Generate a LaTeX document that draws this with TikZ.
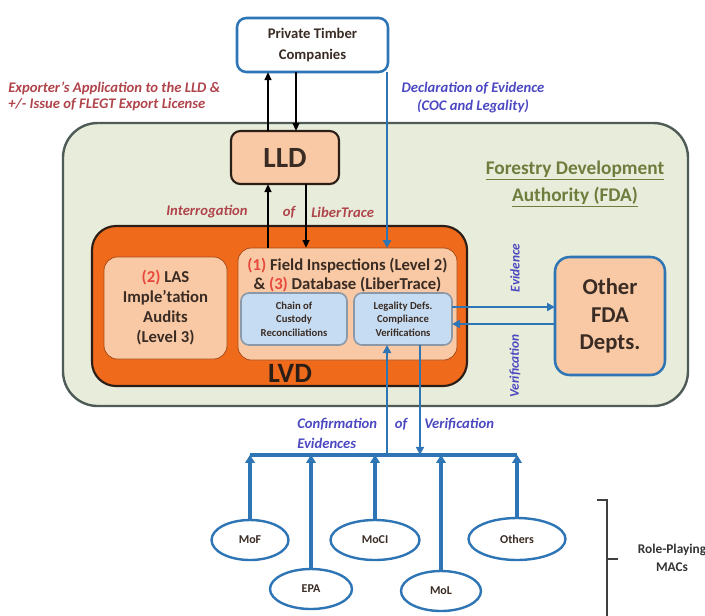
\documentclass[tikz,border=0pt]{standalone}
\usepackage{fontspec}
\setmainfont{Carlito}
\usetikzlibrary{calc,shapes.geometric,arrows.meta}
\definecolor{bl}{HTML}{2E75B6}
\definecolor{peach}{HTML}{F8C9A4}
\definecolor{orng}{HTML}{F06A1C}
\definecolor{fdafill}{HTML}{E8EDDB}
\definecolor{fdaline}{HTML}{4E5B57}
\definecolor{dk}{HTML}{2B1E16}
\definecolor{lblue}{HTML}{C6DCF2}
\definecolor{lbline}{HTML}{8A98A8}
\definecolor{redlab}{HTML}{B0444B}
\definecolor{purlab}{HTML}{4B48C2}
\definecolor{olive}{HTML}{6E7D3E}
\definecolor{redn}{HTML}{E8473C}
\definecolor{txt}{HTML}{3A2C24}
\newcommand{\fs}[2]{\fontsize{#1}{#2}\selectfont}
\tikzset{
  boxbase/.style={rectangle, inner sep=0pt, outer sep=0pt},
  ptcbox/.style={boxbase, draw=bl, line width=1.9pt, fill=white, rounded corners=7pt, text=txt, align=center, font=\fs{11}{15.5}\bfseries},
  lldbox/.style={boxbase, draw=dk, line width=1.6pt, fill=peach, rounded corners=7pt, text=txt, font=\fs{22}{24}\bfseries},
  fdabox/.style={boxbase, draw=fdaline, line width=1.8pt, fill=fdafill, rounded corners=26pt},
  lvdbox/.style={boxbase, draw=dk, line width=1.6pt, fill=orng, rounded corners=18pt},
  peachbox/.style={boxbase, draw=orng!70!black, line width=0.6pt, fill=peach, rounded corners=10pt},
  lbbox/.style={boxbase, draw=lbline, line width=1.2pt, fill=lblue, rounded corners=6pt, text=txt, align=center, font=\fs{8}{10}\bfseries},
  otherbox/.style={boxbase, draw=bl, line width=1.9pt, fill=peach, rounded corners=11pt, text=txt, align=center, font=\fs{17}{20.5}\bfseries},
  mac/.style={ellipse, draw=bl, line width=1.8pt, fill=white, inner sep=0pt, text=txt, font=\fs{9}{11}\bfseries},
  blk/.style={draw=black, line width=1.5pt, -{Triangle[length=6pt,width=5pt]}},
  bla/.style={draw=bl, line width=1.8pt, -{Triangle[length=6pt,width=6pt]}},
  blup/.style={draw=bl, line width=2.4pt, -{Triangle[length=6pt,width=7pt]}},
  busline/.style={draw=bl, line width=3pt},
  redtxt/.style={text=redlab, font=\fs{11}{15}\bfseries\itshape, inner sep=0pt},
  purtxt/.style={text=purlab, font=\fs{11}{15}\bfseries\itshape, inner sep=0pt},
  brk/.style={draw=black!75, line width=0.9pt},
}
\begin{document}
\begin{tikzpicture}[x=0.75pt,y=-0.75pt]
\useasboundingbox (0,0) rectangle (705,615);
% containers
\node[fdabox, minimum width=468.75pt, minimum height=212.25pt] (fda) at (375.5,264.5) {};
\node[lvdbox, minimum width=281.25pt, minimum height=120pt] (lvd) at (279.5,306) {};
\node[inner sep=0pt, text=dk, font=\fs{21}{23}\bfseries] (lvdlab) at (290,373) {LVD};
\node[peachbox, minimum width=92.25pt, minimum height=76.5pt, text=txt, align=center, font=\fs{12.5}{15}\bfseries] (las) at (165.5,308)
  {{\color{redn}(2)} LAS\\Imple'tation\\Audits\\(Level 3)};
\node[peachbox, minimum width=164.25pt, minimum height=84pt] (inner) at (347.5,304) {};
\node[inner sep=0pt, text=txt, font=\fs{12.5}{15}\bfseries] (fi1) at (347.5,266) {{\color{redn}(1)} Field Inspections (Level 2)};
\node[inner sep=0pt, text=txt, font=\fs{12.5}{15}\bfseries] (fi2) at (347.5,285) {\& {\color{redn}(3)} Database (LiberTrace)};
\node[lbbox, minimum width=79.5pt, minimum height=39pt] (chain) at (294,319) {Chain of\\Custody\\Reconciliations};
\node[lbbox, minimum width=73.5pt, minimum height=39pt] (legal) at (403,319) {Legality Defs.\\Compliance\\Verifications};
\node[lldbox, minimum width=81pt, minimum height=39.75pt] (lld) at (285,157.5) {LLD};
\node[ptcbox, minimum width=113.25pt, minimum height=40.5pt] (ptc) at (312.5,45) {Private Timber\\Companies};
\node[otherbox, minimum width=82.5pt, minimum height=88.5pt] (other) at (610,316) {Other\\FDA\\Depts.};
% FDA title
\node[text=olive, align=center, font=\fs{14.5}{20}\bfseries, inner sep=0pt] (fdatitle) at (575,184)
  {\underline{Forestry Development}\\\underline{Authority (FDA)}};
% labels
\node[redtxt, anchor=west] (lab1) at (8,88) {Exporter's Application to the LLD \&};
\node[redtxt, anchor=west] (lab2) at (8,105) {+/- Issue of FLEGT Export License};
\node[purtxt, anchor=center] (lab3) at (473,88) {Declaration of Evidence};
\node[purtxt, anchor=center] (lab4) at (473,106) {(COC and Legality)};
\node[redtxt, anchor=west] (int1) at (166,212) {Interrogation};
\node[redtxt] (int2) at (289,212) {of};
\node[redtxt, anchor=west] (int3) at (311,212) {LiberTrace};
\node[purtxt, rotate=90, font=\fs{10}{12}\bfseries\itshape] (ev) at (515,268) {Evidence};
\node[purtxt, rotate=90, font=\fs{10}{12}\bfseries\itshape] (ver) at (515,366) {Verification};
\node[purtxt, anchor=west] (cf1) at (297,424) {Confirmation};
\node[purtxt] (cf2) at (401,424) {of};
\node[purtxt, anchor=west] (cf3) at (424,424) {Verification};
\node[purtxt, anchor=west] (cf4) at (297,443) {Evidences};
% MACs
\node[mac, minimum width=57.75pt, minimum height=30pt] (mof) at (250,540) {MoF};
\node[mac, minimum width=61.5pt, minimum height=30pt] (epa) at (311,589) {EPA};
\node[mac, minimum width=66.75pt, minimum height=30pt] (moci) at (375,540) {MoCI};
\node[mac, minimum width=60pt, minimum height=30pt] (mol) at (441,591) {MoL};
\node[mac, minimum width=72.75pt, minimum height=31.5pt] (others) at (517,539) {Others};
\node[text=black!80, align=center, font=\fs{10}{13.5}\bfseries, inner sep=0pt] (role) at (672,558) {Role-Playing\\MACs};
% connectors top
\coordinate (a1) at ($(lld.north)+(-17,0)$);
\draw[blk] (a1) -- (a1 |- ptc.south);
\coordinate (a2) at ($(lld.north)+(11,0)$);
\draw[blk] (a2 |- ptc.south) -- (a2);
\coordinate (a3) at ($(lld.south)+(-17,0)$);
\draw[blk] (a3 |- inner.north) -- (a3);
\coordinate (a4) at ($(lld.south)+(21,0)$);
\draw[blk] (a4) -- (a4 |- inner.north);
\coordinate (b1) at ($(ptc.south)+(74.5,0)$);
\draw[bla] (b1) -- (b1 |- inner.north);
% to other depts
\coordinate (e1) at ($(legal.east)+(0,-12)$);
\draw[bla] (e1) -- (e1 -| other.west);
\coordinate (e2) at ($(legal.east)+(0,5)$);
\draw[bla] (e2 -| other.west) -- (e2);
% bus
\coordinate (busL) at ($(mof.north)+(0,-64)$);
\coordinate (busR) at ($(others.north)+(0,-62)$);
\draw[busline] (busL) -- (busR);
\coordinate (v1) at ($(legal.south)+(-16,0)$);
\draw[bla] (v1 |- busL) -- (v1);
\coordinate (v2) at ($(legal.south)+(17,0)$);
\draw[bla] (v2) -- (v2 |- busL);
\foreach \m in {mof,epa,moci,mol,others}{
  \draw[blup] (\m.north) -- (\m.north |- busL);
}
% bracket
\coordinate (k1) at (597,500);
\coordinate (k2) at (607,500);
\coordinate (k3) at (607,620);
\coordinate (k4) at (607,559);
\coordinate (k5) at (618,559);
\draw[brk] (k1) -- (k2) -- (k3);
\draw[brk] (k4) -- (k5);
\end{tikzpicture}
\end{document}
